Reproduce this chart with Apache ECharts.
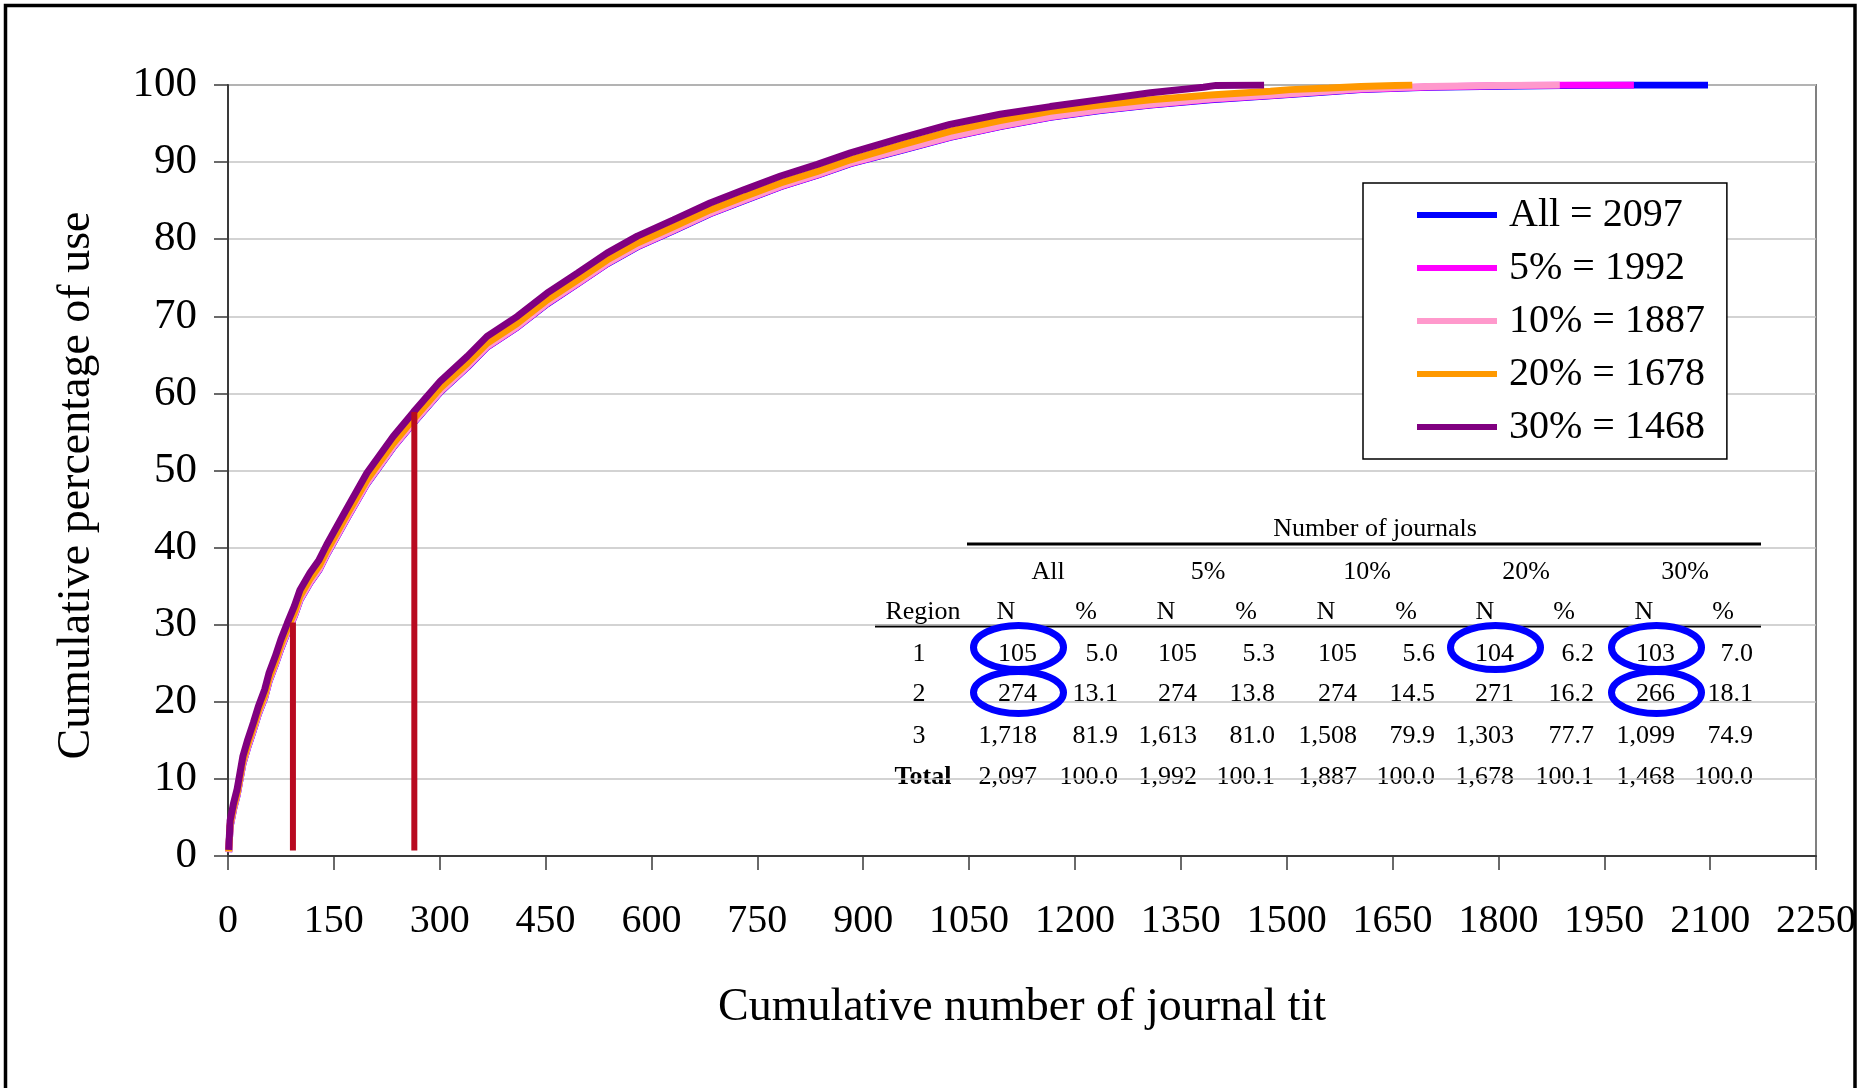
<!DOCTYPE html>
<html><head><meta charset="utf-8">
<script src="https://cdn.jsdelivr.net/npm/echarts@6/dist/echarts.min.js"></script>
<style>html,body{margin:0;padding:0;background:#fff}#c{width:1860px;height:1088px}</style>
</head><body><div id="c"></div>
<script>
// ---------- data ----------
const seriesNames = ['All = 2097', '5% = 1992', '10% = 1887', '20% = 1678', '30% = 1468'];
const seriesColors = ['#0000FF', '#FF00FF', '#FF99CC', '#FF9900', '#800080'];

const curveAll = [[1,0.5],[3,3.8],[8,6.1],[13,7.9],[17,9.9],[21,11.9],[28,14.1],[36,16.3],[43,18.4],[52,20.5],[58,22.6],[67,24.8],[75,26.9],[84,29.0],[94,31.1],[102,33.2],[116,35.4],[129,37.1],[140,39.1],[168,43.7],[197,48.3],[234,53.0],[263,56.2],[301,60.2],[339,63.4],[367,66.0],[410,68.6],[452,71.6],[495,74.2],[537,76.8],[580,79.0],[631,81.1],[683,83.3],[731,85.0],[783,86.8],[835,88.3],[882,89.8],[953,91.5],[1023,93.2],[1094,94.6],[1165,95.8],[1236,96.7],[1307,97.4],[1392,98.1],[1477,98.6],[1540,99.0],[1605,99.4],[1700,99.7],[1800,99.85],[1890,99.95],[1995,100],[2097,100]];
const curve5 = [[1,0.5],[3,3.85],[8,6.15],[13,7.95],[17,9.95],[21,11.95],[28,14.15],[36,16.35],[43,18.45],[52,20.55],[58,22.65],[67,24.85],[75,26.95],[84,29.05],[94,31.15],[102,33.25],[116,35.45],[129,37.15],[140,39.15],[168,43.75],[197,48.35],[234,53.05],[263,56.25],[301,60.25],[339,63.45],[367,66.05],[410,68.65],[452,71.65],[495,74.25],[537,76.85],[580,79.05],[631,81.15],[683,83.35],[731,85.05],[783,86.85],[835,88.35],[882,89.85],[953,91.55],[1023,93.25],[1094,94.65],[1165,95.85],[1236,96.75],[1307,97.45],[1392,98.15],[1477,98.65],[1540,99.05],[1605,99.45],[1700,99.75],[1800,99.9],[1890,100],[1992,100]];
const curve10 = [[1,0.5],[3,3.9],[8,6.2],[13,8.0],[17,10.0],[21,12.0],[28,14.2],[36,16.4],[43,18.5],[52,20.6],[58,22.7],[67,24.9],[75,27.0],[84,29.1],[94,31.2],[102,33.3],[116,35.5],[129,37.2],[140,39.2],[168,43.8],[197,48.4],[234,53.1],[263,56.3],[301,60.3],[339,63.5],[367,66.1],[410,68.7],[452,71.7],[495,74.3],[537,76.9],[580,79.1],[631,81.2],[683,83.4],[731,85.1],[783,86.9],[835,88.4],[882,89.9],[953,91.6],[1023,93.3],[1094,94.7],[1165,95.9],[1236,96.8],[1307,97.5],[1392,98.2],[1477,98.7],[1540,99.1],[1605,99.5],[1700,99.8],[1800,99.95],[1887,100]];
const curve20 = [[1,0.6],[3,4.1],[8,6.4],[13,8.2],[17,10.2],[21,12.3],[28,14.5],[36,16.7],[43,18.8],[52,20.9],[58,23.0],[67,25.2],[75,27.4],[84,29.5],[94,31.6],[102,33.7],[116,35.9],[129,37.6],[140,39.6],[168,44.2],[197,48.8],[234,53.5],[263,56.7],[301,60.7],[339,63.9],[367,66.5],[410,69.1],[452,72.1],[495,74.7],[537,77.3],[580,79.5],[631,81.6],[683,83.8],[731,85.5],[783,87.3],[835,88.8],[882,90.3],[953,92.2],[1023,94.0],[1094,95.4],[1165,96.6],[1236,97.4],[1307,98.1],[1392,98.7],[1477,99.2],[1505,99.4],[1560,99.6],[1605,99.8],[1678,100]];
const curve30 = [[1,0.8],[3,4.6],[8,6.9],[13,8.7],[17,10.8],[21,12.9],[28,15.1],[36,17.3],[43,19.4],[52,21.6],[58,23.7],[67,25.9],[75,28.1],[84,30.2],[94,32.4],[102,34.5],[116,36.7],[129,38.4],[140,40.4],[168,45.0],[197,49.7],[234,54.4],[263,57.6],[301,61.6],[339,64.8],[367,67.4],[410,70.0],[452,73.0],[495,75.6],[537,78.2],[580,80.4],[631,82.5],[683,84.7],[731,86.4],[783,88.2],[835,89.7],[882,91.2],[953,93.1],[1023,94.9],[1094,96.2],[1165,97.2],[1236,98.1],[1307,99.0],[1382,99.7],[1400,99.95],[1468,100]];

// region boundary markers (red verticals)
const boundaryX = [92, 264];
const boundaryTop = [30.3, 57.6];
const boundaryBottom = 0.7;

// inset table
const tableTitle = 'Number of journals';
const tableGroups = ['All', '5%', '10%', '20%', '30%'];
const tableRegions = ['1', '2', '3', 'Total'];
const tableN = [
  ['105', '105', '105', '104', '103'],
  ['274', '274', '274', '271', '266'],
  ['1,718', '1,613', '1,508', '1,303', '1,099'],
  ['2,097', '1,992', '1,887', '1,678', '1,468']
];
const tablePct = [
  ['5.0', '5.3', '5.6', '6.2', '7.0'],
  ['13.1', '13.8', '14.5', '16.2', '18.1'],
  ['81.9', '81.0', '79.9', '77.7', '74.9'],
  ['100.0', '100.1', '100.0', '100.1', '100.0']
];
const circled = [[0, 0], [1, 0], [0, 3], [0, 4], [1, 4]]; // [row, group]

// ---------- layout ----------
const FONT = '"Liberation Serif", "Times New Roman", serif';
const nRight = [1037, 1197, 1357, 1514, 1675];
const pRight = [1118, 1275, 1435, 1594, 1753];
const nHead = [1006, 1166, 1326, 1485, 1644];
const pHead = [1086, 1246, 1406, 1564, 1723];
const gHead = [1048, 1208, 1367, 1526, 1685];
const rowY = [654, 694, 736, 777];
const TF = 26;

const graphics = [];
function txt(t, x, y, align, bold) {
  graphics.push({type: 'text', silent: true, style: {text: t, x: x, y: y, align: align, verticalAlign: 'middle',
    fill: '#000', fontSize: TF, fontFamily: FONT, fontWeight: bold ? 'bold' : 'normal'}});
}
txt(tableTitle, 1375, 529, 'center');
graphics.push({type: 'line', silent: true, shape: {x1: 967, y1: 544, x2: 1761, y2: 544}, style: {stroke: '#000', lineWidth: 3}});
tableGroups.forEach((g, i) => txt(g, gHead[i], 572, 'center'));
txt('Region', 923, 612, 'center');
tableGroups.forEach((g, i) => { txt('N', nHead[i], 612, 'center'); txt('%', pHead[i], 612, 'center'); });
graphics.push({type: 'line', silent: true, shape: {x1: 875, y1: 626, x2: 1761, y2: 626}, style: {stroke: '#000', lineWidth: 3}});
tableRegions.forEach((r, ri) => {
  txt(r, r === 'Total' ? 923 : 919, rowY[ri], 'center', r === 'Total');
  tableN[ri].forEach((v, gi) => txt(v, nRight[gi], rowY[ri], 'right'));
  tablePct[ri].forEach((v, gi) => txt(v, pRight[gi], rowY[ri], 'right'));
});
circled.forEach(([ri, gi]) => {
  graphics.push({type: 'ellipse', silent: true, z: 10,
    shape: {cx: nRight[gi] - 18.5, cy: ri === 0 ? 647.5 : 692.5, rx: 45, ry: ri === 0 ? 22 : 21},
    style: {fill: 'none', stroke: '#0000FF', lineWidth: 7}});
});
// outer frame
graphics.push({type: 'rect', silent: true, z: 100, shape: {x: 5.5, y: 5.5, width: 1849.5, height: 1200},
  style: {fill: 'none', stroke: '#000', lineWidth: 3.5}});

const curves = [curveAll, curve5, curve10, curve20, curve30];
const series = curves.map((d, i) => ({
  name: seriesNames[i], type: 'line', data: d, showSymbol: false, symbol: 'none',
  lineStyle: {color: seriesColors[i], width: 7}, itemStyle: {color: seriesColors[i]},
  z: 2 + i, animation: false, silent: true
}));
boundaryX.forEach((x, i) => {
  series.push({name: 'boundary' + (i + 1), type: 'line', data: [[x, boundaryBottom], [x, boundaryTop[i]]],
    showSymbol: false, symbol: 'none', lineStyle: {color: '#B80A20', width: 6, cap: 'butt'}, z: 10, animation: false, silent: true});
});

const chart = echarts.init(document.getElementById('c'), null, {renderer: 'canvas'});
chart.setOption({
  animation: false,
  backgroundColor: '#fff',
  grid: {left: 228, right: 44, top: 85, bottom: 232, show: true, borderColor: '#808080', borderWidth: 2, backgroundColor: 'transparent'},
  xAxis: {
    type: 'value', min: 0, max: 2250, interval: 150,
    name: 'Cumulative number of journal tit', nameLocation: 'middle', nameGap: 129,
    nameTextStyle: {fontSize: 46, fontFamily: FONT, color: '#000'},
    axisLine: {show: true, onZero: false, lineStyle: {color: '#3a3a3a', width: 2}},
    axisTick: {show: true, inside: false, length: 14, lineStyle: {color: '#3a3a3a', width: 1.5}},
    axisLabel: {fontSize: 40, fontFamily: FONT, color: '#000', margin: 45, showMaxLabel: true, showMinLabel: true,
      formatter: v => String(v)},
    splitLine: {show: false}
  },
  yAxis: {
    type: 'value', min: 0, max: 100, interval: 10,
    name: 'Cumulative percentage of use', nameLocation: 'middle', nameGap: 128,
    nameTextStyle: {fontSize: 46, fontFamily: FONT, color: '#000', padding: [0, 30, 0, 0]},
    axisLine: {show: true, onZero: false, lineStyle: {color: '#3a3a3a', width: 2}},
    axisTick: {show: true, inside: false, length: 14, lineStyle: {color: '#3a3a3a', width: 1.5}},
    axisLabel: {fontSize: 43, fontFamily: FONT, color: '#000', margin: 31, formatter: v => String(v)},
    splitLine: {show: true, lineStyle: {color: '#c4c4c4', width: 1.5}}
  },
  legend: {
    data: seriesNames, orient: 'vertical', left: 1363, top: 183,
    padding: [12, 22, 12, 54], itemWidth: 80, itemHeight: 6, itemGap: 13, icon: 'rect',
    backgroundColor: '#fff', borderColor: '#000', borderWidth: 1.5,
    textStyle: {fontSize: 40, lineHeight: 40, fontFamily: FONT, color: '#000', padding: [0, 0, 0, 7]},
    selectedMode: false
  },
  graphic: {elements: graphics},
  series: series
});
</script>
</body></html>
